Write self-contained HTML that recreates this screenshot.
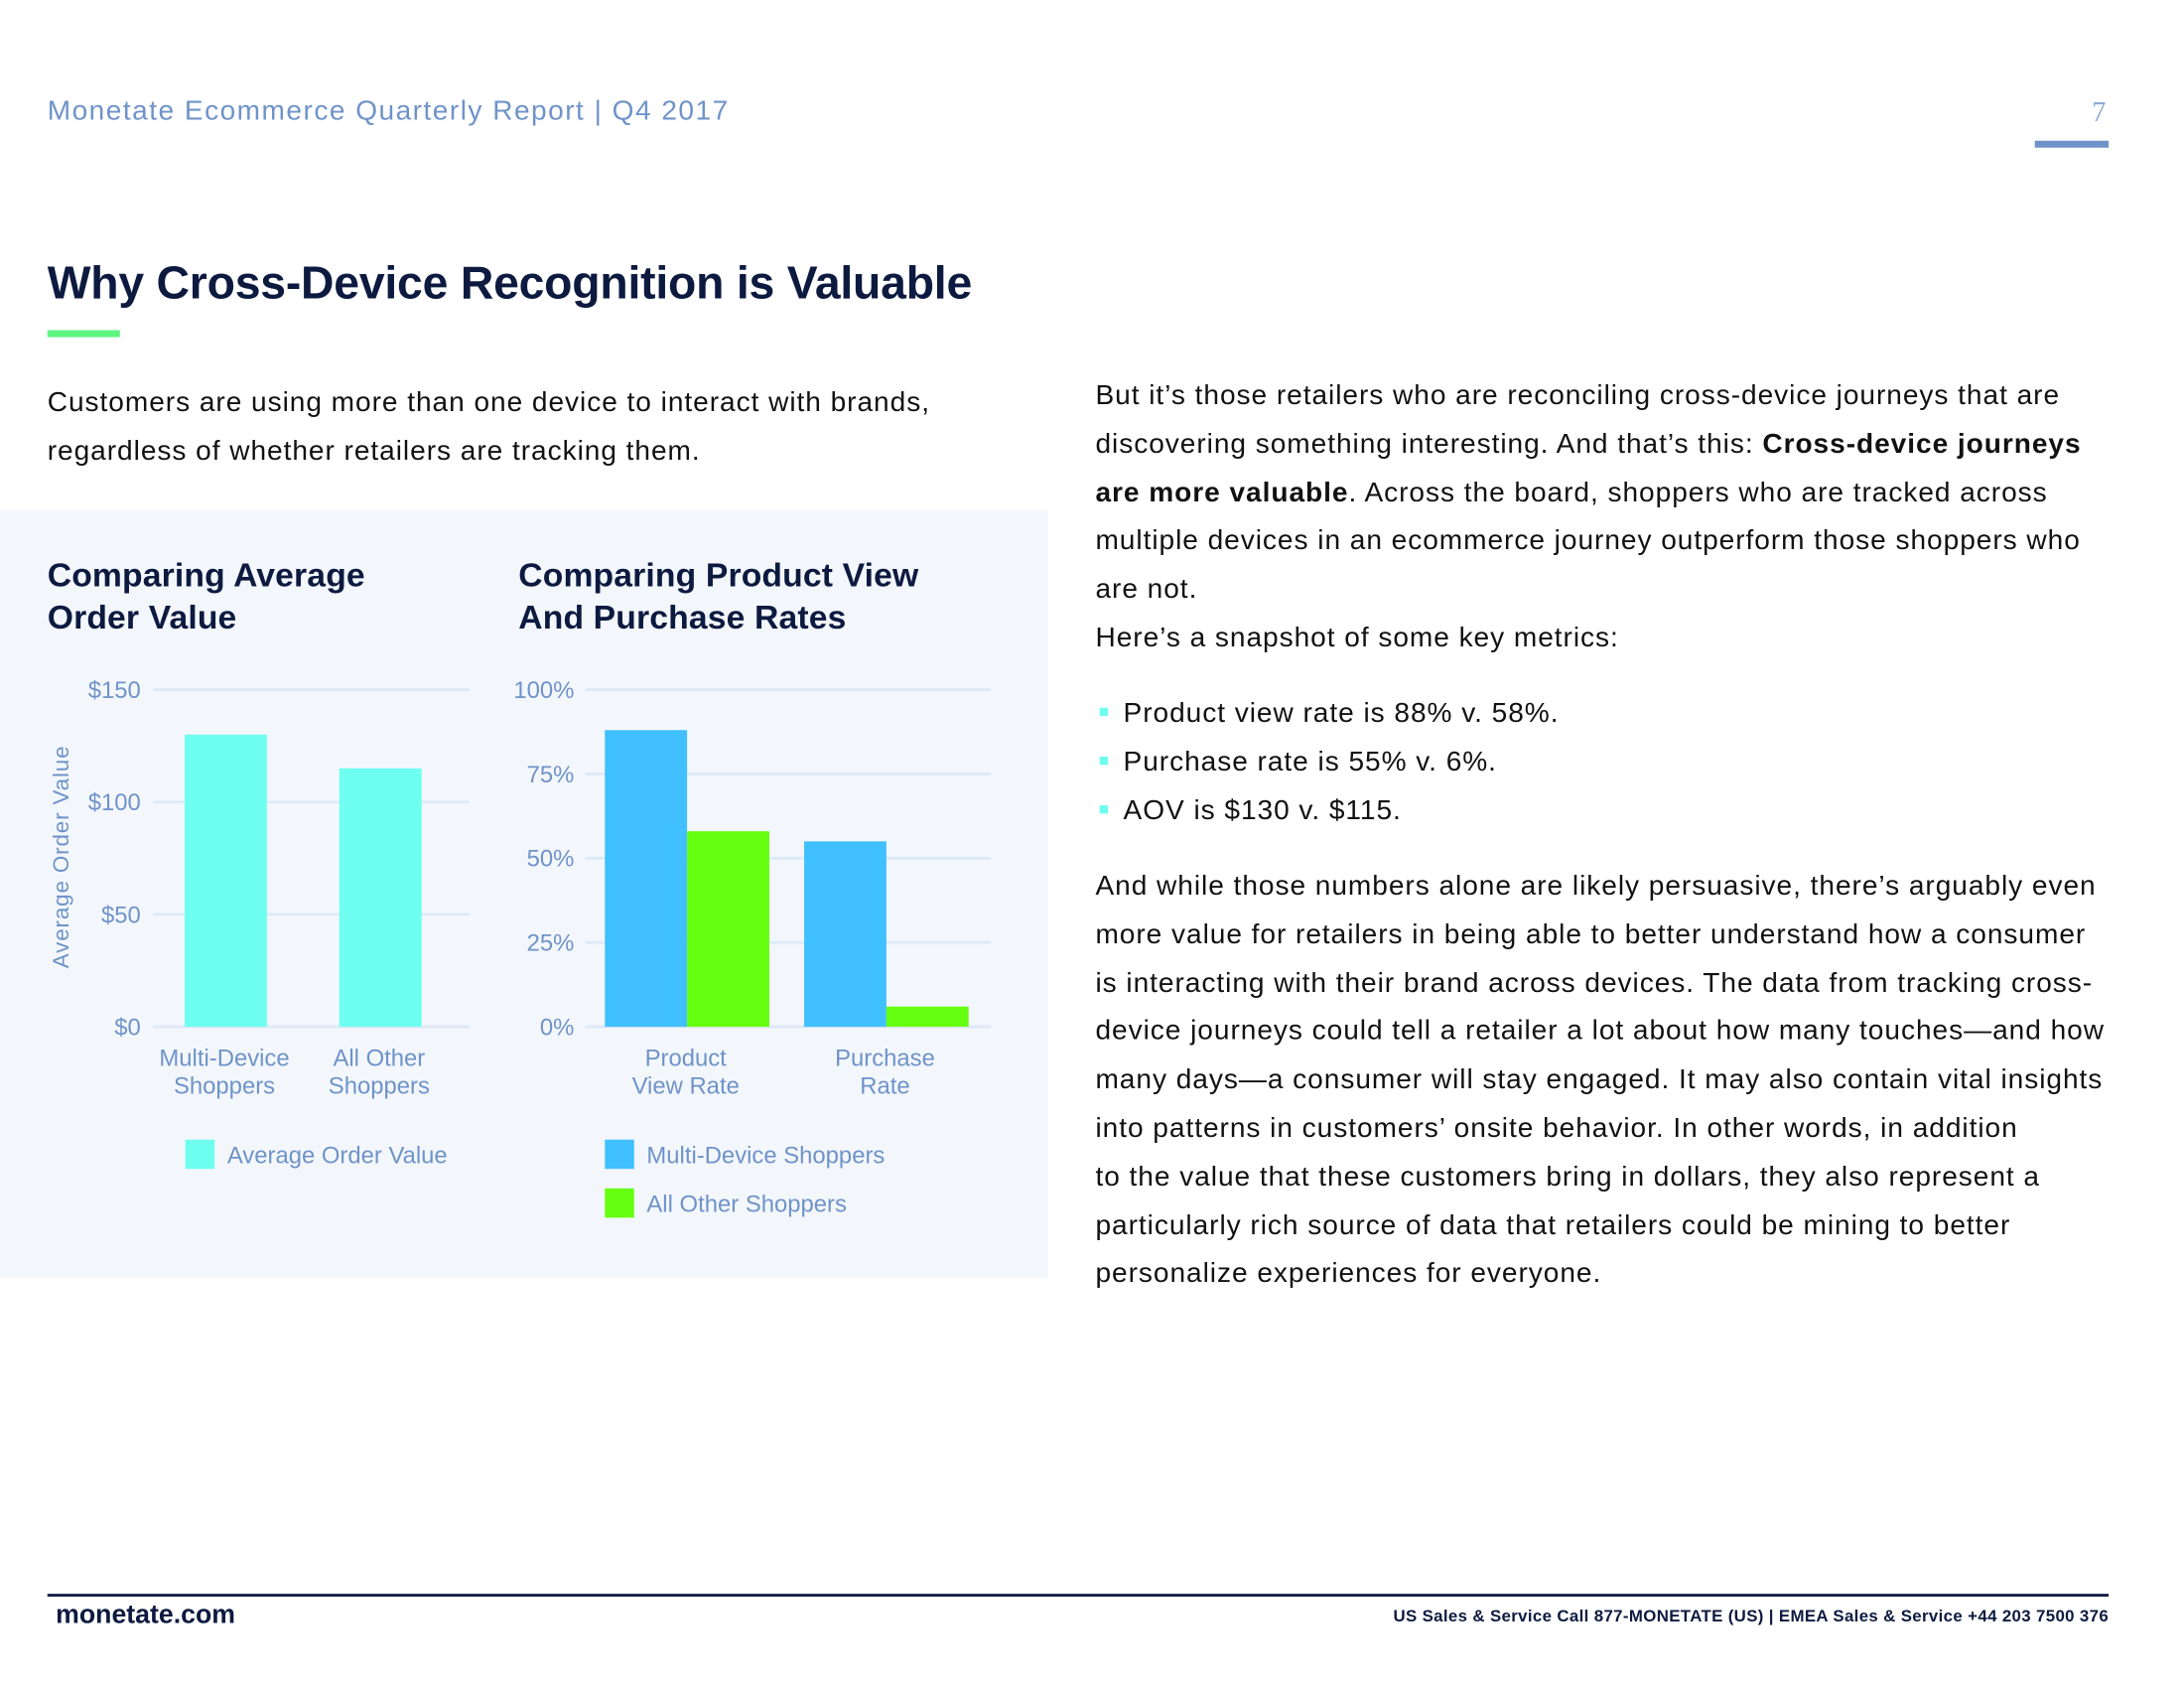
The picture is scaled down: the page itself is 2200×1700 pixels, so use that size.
<!DOCTYPE html>
<html><head><meta charset="utf-8">
<style>
html,body{margin:0;padding:0;width:2200px;height:1700px;overflow:hidden;background:#fff;}
#page{position:absolute;left:0;top:0;width:1552px;height:1200px;transform:scale(1.4039,1.4031);transform-origin:0 0;font-family:"Liberation Sans",sans-serif;}
.abs{position:absolute;white-space:nowrap;}
.body{font-size:20px;color:#111;letter-spacing:0.68px;line-height:34.8px;}
.ct{font-size:24px;font-weight:bold;color:#0d1a40;line-height:30px;letter-spacing:0.1px;}
svg text{font-family:"Liberation Sans",sans-serif;}
</style></head><body>
<div id="page">
  <div class="abs" style="left:34px;top:69px;font-size:20px;color:#6f93c9;letter-spacing:1.05px;">Monetate Ecommerce Quarterly Report | Q4 2017</div>
  <div class="abs" style="left:1501px;top:70px;font-size:20px;color:#8aa9d6;font-family:'Liberation Serif',serif;">7</div>
  <div class="abs" style="left:1460px;top:101px;width:53px;height:5px;background:#6f93c9;"></div>
  <div class="abs" style="left:34px;top:184px;font-size:33px;font-weight:bold;color:#0d1a40;letter-spacing:-0.15px;">Why Cross-Device Recognition is Valuable</div>
  <div class="abs" style="left:34px;top:237px;width:52px;height:5px;background:#5cf57f;"></div>
  <div class="abs body" style="left:34px;top:272px;">Customers are using more than one device to interact with brands,<br>regardless of whether retailers are tracking them.</div>

  <div class="abs" style="left:0;top:366px;width:752px;height:551px;background:#f3f7fc;"></div>
  <div class="abs ct" style="left:34px;top:399px;">Comparing Average<br>Order Value</div>
  <div class="abs ct" style="left:372px;top:399px;">Comparing Product View<br>And Purchase Rates</div>

  <svg class="abs" id="charts" style="left:0;top:0;" width="760" height="920"></svg>

  <div class="abs body" style="left:786px;top:267px;">But it’s those retailers who are reconciling cross-device journeys that are<br>discovering something interesting. And that’s this: <b>Cross-device journeys</b><br><b>are more valuable</b>. Across the board, shoppers who are tracked across<br>multiple devices in an ecommerce journey outperform those shoppers who<br>are not.<br>Here’s a snapshot of some key metrics:</div>
  <div class="abs body" style="left:806px;top:495px;">Product view rate is 88% v. 58%.<br>Purchase rate is 55% v. 6%.<br>AOV is $130 v. $115.</div>
  <div class="abs" style="left:789px;top:508px;width:6px;height:6px;background:#6ffff0;"></div>
  <div class="abs" style="left:789px;top:543px;width:6px;height:6px;background:#6ffff0;"></div>
  <div class="abs" style="left:789px;top:578px;width:6px;height:6px;background:#6ffff0;"></div>
  <div class="abs body" style="left:786px;top:619px;">And while those numbers alone are likely persuasive, there’s arguably even<br>more value for retailers in being able to better understand how a consumer<br>is interacting with their brand across devices. The data from tracking cross-<br>device journeys could tell a retailer a lot about how many touches—and how<br>many days—a consumer will stay engaged. It may also contain vital insights<br>into patterns in customers’ onsite behavior. In other words, in addition<br>to the value that these customers bring in dollars, they also represent a<br>particularly rich source of data that retailers could be mining to better<br>personalize experiences for everyone.</div>

  <div class="abs" style="left:34px;top:1144px;width:1479px;height:2px;background:#0d1a40;"></div>
  <div class="abs" style="left:40px;top:1149px;font-size:19px;font-weight:bold;color:#0d1a40;">monetate.com</div>
  <div class="abs" style="right:39px;top:1153px;font-size:12px;font-weight:bold;color:#0d1a40;letter-spacing:0.25px;">US Sales &amp; Service Call 877-MONETATE (US) | EMEA Sales &amp; Service +44 203 7500 376</div>
</div>
<script>
const aovCategories = ["Multi-Device|Shoppers", "All Other|Shoppers"];
const aovValues = [130, 115];
const aovTicks = [0, 50, 100, 150];
const aovTickLabels = ["$0", "$50", "$100", "$150"];
const rateCategories = ["Product|View Rate", "Purchase|Rate"];
const rateMulti = [88, 55];
const rateOther = [58, 6];
const rateTicks = [0, 25, 50, 75, 100];
const rateTickLabels = ["0%", "25%", "50%", "75%", "100%"];

const NS = "http://www.w3.org/2000/svg";
const svg = document.getElementById("charts");
function mk(tag, attrs, parent) {
  const e = document.createElementNS(NS, tag);
  for (const k in attrs) e.setAttribute(k, attrs[k]);
  (parent || svg).appendChild(e);
  return e;
}
const TXT = "#6f93c9", GRID = "#dde9f7";
const y0 = 737, y1 = 495;
function yA(v) { return y0 - (v / 150) * (y0 - y1); }
function yR(v) { return y0 - (v / 100) * (y0 - y1); }

aovTicks.forEach((t, i) => {
  const l = mk("line", {x1: 110, x2: 337, y1: yA(t), y2: yA(t), stroke: GRID, "stroke-width": 2});
  
  
  const tx = mk("text", {x: 101, y: yA(t) + 6, "text-anchor": "end", fill: TXT, "font-size": 17});
  tx.textContent = aovTickLabels[i];
  
  
});
const aovCenters = [162, 273];
aovValues.forEach((v, i) => {
  const r = mk("rect", {x: aovCenters[i] - 29.5, y: yA(v), width: 59, height: y0 - yA(v), fill: "#6ffff0"});
  
  
  aovCategories[i].split("|").forEach((s, j) => {
    const tx = mk("text", {x: aovCenters[i] - 1, y: 765 + j * 20, "text-anchor": "middle", fill: TXT, "font-size": 17});
    tx.textContent = s;
    
    
  });
});
const yt = mk("text", {x: 0, y: 0, transform: "translate(49,615) rotate(-90)", "text-anchor": "middle", fill: TXT, "font-size": 16, "letter-spacing": 0.6});
yt.textContent = "Average Order Value";


const ls = mk("rect", {x: 133, y: 818, width: 21, height: 21, fill: "#6ffff0"});


const lt = mk("text", {x: 163, y: 835, fill: TXT, "font-size": 17});
lt.textContent = "Average Order Value";



rateTicks.forEach((t, i) => {
  const l = mk("line", {x1: 420, x2: 711, y1: yR(t), y2: yR(t), stroke: GRID, "stroke-width": 2});
  
  
  const tx = mk("text", {x: 412, y: yR(t) + 6, "text-anchor": "end", fill: TXT, "font-size": 17});
  tx.textContent = rateTickLabels[i];
  
  
});
const rateCenters = [493, 636];
rateCategories.forEach((c, i) => {
  const b1 = mk("rect", {x: rateCenters[i] - 59, y: yR(rateMulti[i]), width: 59, height: y0 - yR(rateMulti[i]), fill: "#40c0ff"});
  
  
  const b2 = mk("rect", {x: rateCenters[i], y: yR(rateOther[i]), width: 59, height: y0 - yR(rateOther[i]), fill: "#66ff11"});
  
  
  c.split("|").forEach((s, j) => {
    const tx = mk("text", {x: rateCenters[i] - 1, y: 765 + j * 20, "text-anchor": "middle", fill: TXT, "font-size": 17});
    tx.textContent = s;
    
    
  });
});
[["Multi-Device Shoppers", "#40c0ff", 818], ["All Other Shoppers", "#66ff11", 853]].forEach(([name, col, y]) => {
  const s = mk("rect", {x: 434, y: y, width: 21, height: 21, fill: col});
  
  
  const t = mk("text", {x: 464, y: y + 17, fill: TXT, "font-size": 17});
  t.textContent = name;
  
  
});
</script>
</body></html>
